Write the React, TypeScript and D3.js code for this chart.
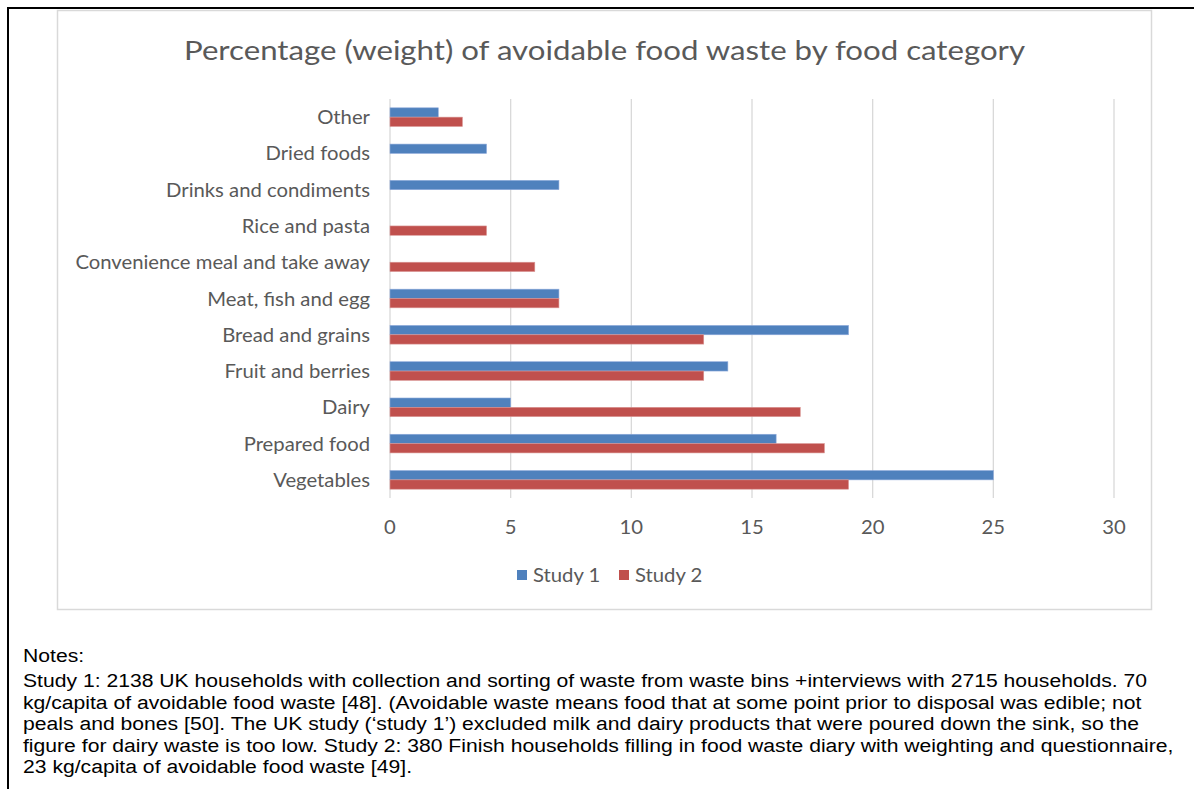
import React, { useEffect, useRef } from "react";
import * as d3 from "d3";

const categories = [
  "Other",
  "Dried foods",
  "Drinks and condiments",
  "Rice and pasta",
  "Convenience meal and take away",
  "Meat, fish and egg",
  "Bread and grains",
  "Fruit and berries",
  "Dairy",
  "Prepared food",
  "Vegetables",
];
const study1 = [2, 4, 7, 0, 0, 7, 19, 14, 5, 16, 25];
const study2 = [3, 0, 0, 4, 6, 7, 13, 13, 17, 18, 19];
const seriesNames = ["Study 1", "Study 2"];
const xTicks = [0, 5, 10, 15, 20, 25, 30];
const title = "Percentage (weight) of avoidable food waste by food category";
const notesHeading = "Notes:";
const notesLines = [
  "Study 1: 2138 UK households with collection and sorting of waste from waste bins +interviews with 2715 households. 70",
  "kg/capita of avoidable food waste [48]. (Avoidable waste means food that at some point prior to disposal was edible; not",
  "peals and bones [50]. The UK study (\u2018study 1\u2019) excluded milk and dairy products that were poured down the sink, so the",
  "figure for dairy waste is too low. Study 2: 380 Finish households filling in food waste diary with weighting and questionnaire,",
  "23 kg/capita of avoidable food waste [49].",
];

const W = 1194;
const H = 789;
const COLORS = ["#4F81BD", "#C0504D"];
const STROKES = ["#8EAADB", "#D99694"];
const FONT = "Lato, 'Open Sans', sans-serif";
const TEXT_GRAY = "#595959";
const LABEL_SIZE = 18.6;
const LABEL_STRETCH = 1.09;

export default function App() {
  const ref = useRef<SVGSVGElement>(null);

  useEffect(() => {
    document.body.style.margin = "0";
    const svg = d3.select(ref.current);
    svg.selectAll("*").remove();

    // outer black frame
    svg.append("rect").attr("x", 8).attr("y", 8).attr("width", W + 20).attr("height", H + 20)
      .attr("fill", "none").attr("stroke", "#000").attr("stroke-width", 2);

    // chart box
    svg.append("rect").attr("x", 57.5).attr("y", 10.5).attr("width", 1094).attr("height", 599)
      .attr("fill", "#fff").attr("stroke", "#D9D9D9").attr("stroke-width", 1.5);

    // title
    svg.append("text")
      .attr("transform", "translate(604.5,59.5) scale(1.2,1)")
      .attr("text-anchor", "middle")
      .attr("font-family", FONT).attr("font-size", 26).attr("fill", TEXT_GRAY).text(title);

    const x = d3.scaleLinear().domain([0, 30]).range([390, 1114]);
    const y = d3.scaleBand<string>().domain(categories).range([99, 498]).padding(0);
    const barH = y.bandwidth() * 0.257;

    // gridlines
    svg.append("g").selectAll("line").data(xTicks).join("line")
      .attr("x1", (d) => x(d)).attr("x2", (d) => x(d))
      .attr("y1", 99).attr("y2", 498)
      .attr("stroke", "#D9D9D9").attr("stroke-width", 1.3);

    // tick labels
    svg.append("g").selectAll("text").data(xTicks).join("text")
      .attr("transform", (d) => `translate(${x(d)},533.5) scale(${LABEL_STRETCH},1)`)
      .attr("text-anchor", "middle")
      .attr("font-family", FONT).attr("font-size", LABEL_SIZE).attr("fill", TEXT_GRAY)
      .text((d) => String(d));

    // category labels
    svg.append("g").selectAll("text").data(categories).join("text")
      .attr("transform", (d) =>
        `translate(370,${(y(d) as number) + y.bandwidth() / 2 + 7}) scale(${LABEL_STRETCH},1)`)
      .attr("text-anchor", "end")
      .attr("font-family", FONT).attr("font-size", LABEL_SIZE).attr("fill", TEXT_GRAY)
      .text((d) => d);

    // bars
    [study1, study2].forEach((vals, si) => {
      svg.append("g").selectAll("rect").data(categories).join("rect")
        .attr("x", x(0))
        .attr("y", (d) => (y(d) as number) + y.bandwidth() / 2 - barH + si * barH)
        .attr("width", (_d, i) => x(vals[i]) - x(0))
        .attr("height", barH)
        .attr("fill", COLORS[si])
        .attr("stroke", (_d, i) => (vals[i] > 0 ? STROKES[si] : "none"))
        .attr("stroke-width", 0.6);
    });

    // legend
    const legX = [517, 619];
    seriesNames.forEach((name, i) => {
      svg.append("rect").attr("x", legX[i]).attr("y", 570).attr("width", 10).attr("height", 10)
        .attr("fill", COLORS[i]);
      svg.append("text")
        .attr("transform", `translate(${legX[i] + 16},582) scale(${LABEL_STRETCH},1)`)
        .attr("font-family", FONT).attr("font-size", LABEL_SIZE).attr("fill", TEXT_GRAY).text(name);
    });

    // notes
    const notes = svg.append("g")
      .attr("transform", "translate(23,0) scale(1.125,1)")
      .attr("font-family", "'Liberation Sans', Arial, sans-serif")
      .attr("font-size", 18.8).attr("fill", "#000");
    notes.append("text").attr("x", 0).attr("y", 661.7).text(notesHeading);
    notesLines.forEach((line, i) => {
      notes.append("text").attr("x", 0).attr("y", 687.3 + i * 21.55).text(line);
    });
  }, []);

  return (
    <svg
      ref={ref}
      width={W}
      height={H}
      style={{ position: "absolute", left: 0, top: 0, background: "#fff" }}
    />
  );
}
